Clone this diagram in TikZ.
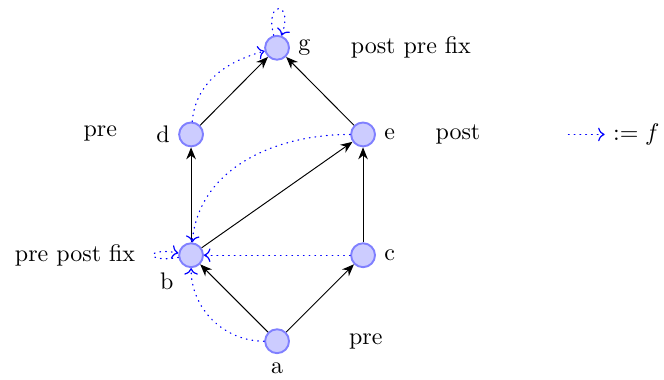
\documentclass[tikz,border=0pt]{standalone}
\usetikzlibrary{arrows.meta}

\begin{document}
\begin{tikzpicture}[
  vertex/.style={circle,draw=blue!50,fill=blue!20,thick,minimum size=0.35cm,inner sep=0pt},
  edge/.style={-{Stealth[length=5pt,width=4pt]}},
  fmap/.style={->,blue,line width=0.5pt,line cap=round,dash pattern=on 0.3pt off 2.1pt}]
  \useasboundingbox (-4.06,-0.557) rectangle (5.67,5.0);
  % vertices
  \node[vertex,label={below:a}] (a) at (0,0) {};
  \node[vertex,label={below left:b}] (b) at (-1.26,1.26) {};
  \node[vertex,label={right:c}] (c) at (1.26,1.26) {};
  \node[vertex,label={left:d}] (d) at (-1.26,3.03) {};
  \node[vertex,label={right:e}] (e) at (1.26,3.03) {};
  \node[vertex,label={right:g}] (g) at (0,4.30) {};
  % order
  \draw[edge] (a) -- (b);
  \draw[edge] (a) -- (c);
  \draw[edge] (b) -- (d);
  \draw[edge] (b) -- (e);
  \draw[edge] (c) -- (e);
  \draw[edge] (d) -- (g);
  \draw[edge] (e) -- (g);
  % the map f
  \draw[fmap] (a) to[out=180,in=-90] (b);
  \draw[fmap] (b) to[out=190,in=170,min distance=0.5cm] (b);
  \draw[fmap] (c) -- (b);
  \draw[fmap] (d) to[out=85,in=195] (g);
  \draw[fmap] (e) to[out=180,in=85] (b);
  \draw[fmap] (g) to[out=105,in=70,min distance=0.55cm] (g);
  % kinds of points
  \node (tg) at (1.96,4.30) {post pre fix};
  \node (td) at (-2.59,3.05) {pre};
  \node (te) at (2.65,3.03) {post};
  \node (tb) at (-2.96,1.26) {pre post fix};
  \node (ta) at (1.30,0) {pre};
  % legend
  \coordinate (legs) at (4.27,3.03);
  \node[anchor=west] (legt) at (4.80,3.03) {$:= f$};
  \draw[fmap] (legs) -- (legt.west);
\end{tikzpicture}
\end{document}
